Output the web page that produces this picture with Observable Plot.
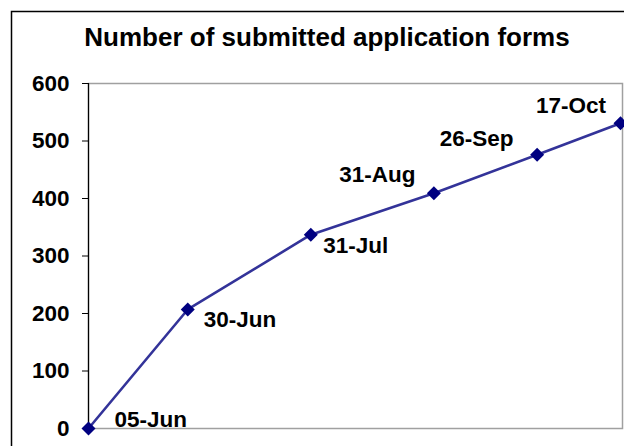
<!DOCTYPE html>
<html>
<head>
<meta charset="utf-8">
<script src="https://cdn.jsdelivr.net/npm/d3@7"></script>
<script src="https://cdn.jsdelivr.net/npm/@observablehq/plot@0.6"></script>
<style>
  html, body { margin: 0; padding: 0; background: #fff; }
  #chart svg { font-family: "Liberation Sans", Arial, sans-serif; font-weight: bold; display: block; }
</style>
</head>
<body>
<div id="chart"></div>
<script>
const title = "Number of submitted application forms";
const dateStrings = ["2007-06-05", "2007-06-30", "2007-07-31", "2007-08-31", "2007-09-26", "2007-10-17"];
const labels = ["05-Jun", "30-Jun", "31-Jul", "31-Aug", "26-Sep", "17-Oct"];
const values = [0, 207, 337, 409, 476, 531];
const yTicks = [0, 100, 200, 300, 400, 500, 600];

const dates = dateStrings.map(s => new Date(s + "T00:00:00Z"));
const data = dates.map((d, i) => ({date: d, value: values[i], label: labels[i], i}));

// label placement (style): [textAnchor, dx, dy]
const labelPlacement = [
  ["start", 26, -8.5],
  ["start", 16, 10.5],
  ["start", 12.5, 11],
  ["end", -18.5, -18.5],
  ["end", -23.5, -16.5],
  ["end", -14.5, -17]
];

const labelMarks = labelPlacement.map(([anchor, dx, dy], k) =>
  Plot.text(data.filter(d => d.i === k), {
    x: "date", y: "value", text: "label",
    textAnchor: anchor, dx, dy,
    fontSize: 22.5, fontWeight: "bold", fill: "#000"
  })
);

const chart = Plot.plot({
  width: 624,
  height: 446,
  marginLeft: 88,
  marginRight: 2,
  marginTop: 83,
  marginBottom: 18,
  style: {fontSize: "22.5px", fontFamily: "Liberation Sans, Arial, sans-serif", fontWeight: "bold", background: "#fff", overflow: "visible"},
  x: {type: "utc", domain: [dates[0], dates[dates.length - 1]], insetRight: 2, axis: null},
  y: {domain: [0, 600], axis: null},
  marks: [
    Plot.frame({stroke: "#a0a0a0", strokeWidth: 1.5}),
    Plot.ruleX([dates[0]], {stroke: "#000", strokeWidth: 1.2}),
    Plot.axisY({ticks: yTicks, tickSize: 6, tickPadding: 13, label: null, stroke: "#000", fill: "#000", fontSize: 22.5, fontWeight: "bold"}),
    Plot.line(data, {x: "date", y: "value", stroke: "#333399", strokeWidth: 2.6}),
    Plot.dot(data, {x: "date", y: "value", symbol: "diamond2", r: 6.3, fill: "#000080", stroke: "none"}),
    ...labelMarks
  ]
});

const svg = d3.select(chart);
svg.insert("rect", ":first-child")
  .attr("x", 11.5).attr("y", 11.5)
  .attr("width", 700).attr("height", 500)
  .attr("fill", "none").attr("stroke", "#000").attr("stroke-width", 1.5);
svg.append("text")
  .attr("x", 327).attr("y", 46)
  .attr("text-anchor", "middle")
  .attr("font-size", 26)
  .attr("font-weight", "bold")
  .attr("fill", "#000")
  .text(title);

document.getElementById("chart").appendChild(chart);
</script>
</body>
</html>
